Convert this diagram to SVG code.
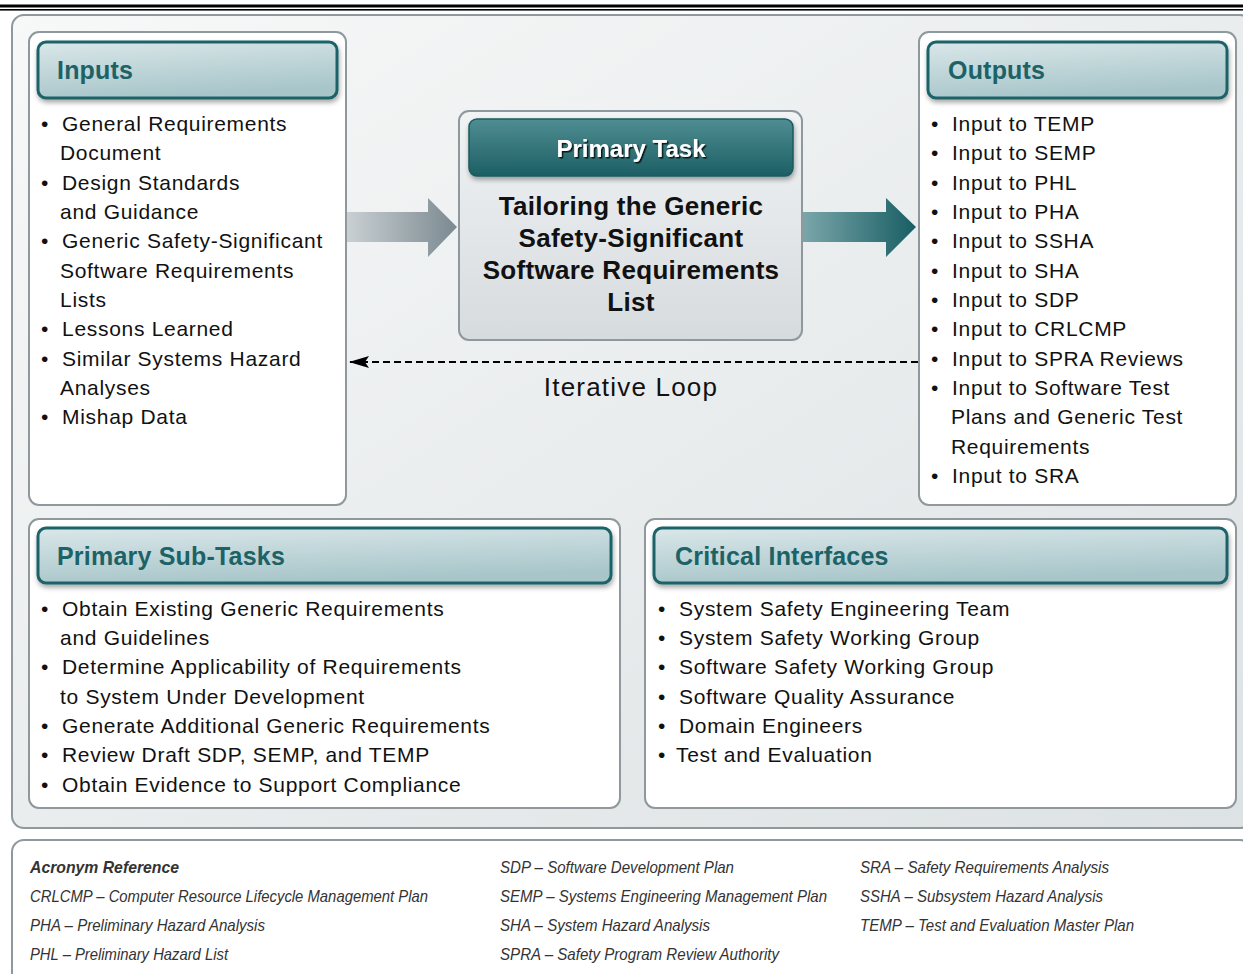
<svg xmlns="http://www.w3.org/2000/svg" width="1243" height="974" viewBox="0 0 1243 974">
<defs>
<linearGradient id="bg" x1="0" y1="0" x2="1" y2="1"><stop offset="0" stop-color="#f7f8f8"/><stop offset="1" stop-color="#dde2e4"/></linearGradient>
<linearGradient id="hdr" x1="0" y1="0" x2="0.3" y2="1"><stop offset="0" stop-color="#dae7e9"/><stop offset="1" stop-color="#a8c6ca"/></linearGradient>
<linearGradient id="dark" x1="0" y1="0" x2="0" y2="1"><stop offset="0" stop-color="#4f8d92"/><stop offset="1" stop-color="#1c5f64"/></linearGradient>
<linearGradient id="task" x1="0" y1="0" x2="0" y2="1"><stop offset="0" stop-color="#f1f3f4"/><stop offset="1" stop-color="#d6dbde"/></linearGradient>
<linearGradient id="arrL" x1="0" y1="0" x2="1" y2="0"><stop offset="0" stop-color="#c9d0d4"/><stop offset="1" stop-color="#7b8990"/></linearGradient>
<linearGradient id="arrR" x1="0" y1="0" x2="1" y2="0"><stop offset="0" stop-color="#7aa6aa"/><stop offset="1" stop-color="#185e63"/></linearGradient>
<filter id="sh" x="-5%" y="-20%" width="110%" height="150%"><feDropShadow dx="1" dy="3" stdDeviation="2.5" flood-color="#000" flood-opacity="0.35"/></filter>
<filter id="tsh" x="-5%" y="-20%" width="110%" height="150%"><feDropShadow dx="1.5" dy="1.5" stdDeviation="0.6" flood-color="#000" flood-opacity="0.8"/></filter>
<marker id="ah" viewBox="0 0 20 12" refX="19" refY="6" markerWidth="20" markerHeight="12" markerUnits="userSpaceOnUse" orient="auto"><path d="M0,0 L20,6 L0,12 L4,6 Z" fill="#000"/></marker>
</defs>
<style>
.panel{fill:#fff;stroke:#8e989d;stroke-width:2}
.hbox{fill:url(#hdr);stroke:#1d6469;stroke-width:3}
.htxt{font-family:"Liberation Sans",Arial,sans-serif;font-weight:bold;font-size:25px;letter-spacing:0.2px;fill:#1c6266}
.li{font-family:"Liberation Sans",Arial,sans-serif;font-size:21px;letter-spacing:0.7px;fill:#111}
.tt{font-family:"Liberation Sans",Arial,sans-serif;font-weight:bold;font-size:26px;letter-spacing:0.3px;fill:#111;text-anchor:middle}
.ac{font-family:"Liberation Sans",Arial,sans-serif;font-style:italic;font-size:17px;fill:#333}
</style>
<rect x="0" y="0" width="1243" height="974" fill="#fff"/>
<rect x="0" y="4.5" width="1243" height="3" fill="#000"/>
<rect x="0" y="9" width="1243" height="1.6" fill="#000"/>
<rect x="12" y="15" width="1240" height="813" rx="12" fill="url(#bg)" stroke="#8e989d" stroke-width="2"/>

<g id="inputs">
<rect class="panel" x="29" y="32" width="317" height="473" rx="10"/>
<rect class="hbox" x="38" y="42" width="299" height="56" rx="8" filter="url(#sh)"/>
<text class="htxt" x="57" y="79">Inputs</text>
<g class="li">
<text x="41" y="131">•</text><text x="62" y="131">General Requirements</text>
<text x="60" y="160">Document</text>
<text x="41" y="190">•</text><text x="62" y="190">Design Standards</text>
<text x="60" y="219">and Guidance</text>
<text x="41" y="248">•</text><text x="62" y="248">Generic Safety-Significant</text>
<text x="60" y="278">Software Requirements</text>
<text x="60" y="307">Lists</text>
<text x="41" y="336">•</text><text x="62" y="336">Lessons Learned</text>
<text x="41" y="366">•</text><text x="62" y="366">Similar Systems Hazard</text>
<text x="60" y="395">Analyses</text>
<text x="41" y="424">•</text><text x="62" y="424">Mishap Data</text>
</g>
</g>

<g id="primary-task">
<rect x="459" y="111" width="343" height="229" rx="10" fill="url(#task)" stroke="#8e989d" stroke-width="2"/>
<rect x="469" y="119" width="324" height="57" rx="8" fill="url(#dark)" stroke="#1a5b60" stroke-width="1.5" filter="url(#sh)"/>
<text x="631" y="157" font-family="Liberation Sans,Arial,sans-serif" font-weight="bold" font-size="24" fill="#fff" text-anchor="middle" filter="url(#tsh)">Primary Task</text>
<text class="tt" x="631" y="215">Tailoring the Generic</text>
<text class="tt" x="631" y="247">Safety-Significant</text>
<text class="tt" x="631" y="279">Software Requirements</text>
<text class="tt" x="631" y="311">List</text>
</g>

<g id="outputs">
<rect class="panel" x="919" y="32" width="317" height="473" rx="10"/>
<rect class="hbox" x="928" y="42" width="299" height="56" rx="8" filter="url(#sh)"/>
<text class="htxt" x="948" y="79">Outputs</text>
<g class="li">
<text x="931" y="131">•</text><text x="952" y="131">Input to TEMP</text>
<text x="931" y="160">•</text><text x="952" y="160">Input to SEMP</text>
<text x="931" y="190">•</text><text x="952" y="190">Input to PHL</text>
<text x="931" y="219">•</text><text x="952" y="219">Input to PHA</text>
<text x="931" y="248">•</text><text x="952" y="248">Input to SSHA</text>
<text x="931" y="278">•</text><text x="952" y="278">Input to SHA</text>
<text x="931" y="307">•</text><text x="952" y="307">Input to SDP</text>
<text x="931" y="336">•</text><text x="952" y="336">Input to CRLCMP</text>
<text x="931" y="366">•</text><text x="952" y="366">Input to SPRA Reviews</text>
<text x="931" y="395">•</text><text x="952" y="395">Input to Software Test</text>
<text x="951" y="424">Plans and Generic Test</text>
<text x="951" y="454">Requirements</text>
<text x="931" y="483">•</text><text x="952" y="483">Input to SRA</text>
</g>
</g>

<g id="connectors">
<path d="M347,212 H428 V198 L457,227 L428,257 V242 H347 Z" fill="url(#arrL)"/>
<path d="M803,212 H886 V198 L916,227 L886,257 V242 H803 Z" fill="url(#arrR)"/>
<line x1="918" y1="362" x2="350" y2="362" stroke="#000" stroke-width="2" stroke-dasharray="7,4" marker-end="url(#ah)"/>
<text x="631" y="396" font-family="Liberation Sans,Arial,sans-serif" font-size="26" letter-spacing="1.2" fill="#111" text-anchor="middle">Iterative Loop</text>
</g>

<g id="sub-tasks">
<rect class="panel" x="29" y="519" width="591" height="289" rx="10"/>
<rect class="hbox" x="38" y="528" width="573" height="55" rx="8" filter="url(#sh)"/>
<text class="htxt" x="57" y="565">Primary Sub-Tasks</text>
<g class="li">
<text x="41" y="616">•</text><text x="62" y="616">Obtain Existing Generic Requirements</text>
<text x="60" y="645">and Guidelines</text>
<text x="41" y="674">•</text><text x="62" y="674">Determine Applicability of Requirements</text>
<text x="60" y="704">to System Under Development</text>
<text x="41" y="733">•</text><text x="62" y="733">Generate Additional Generic Requirements</text>
<text x="41" y="762">•</text><text x="62" y="762">Review Draft SDP, SEMP, and TEMP</text>
<text x="41" y="792">•</text><text x="62" y="792">Obtain Evidence to Support Compliance</text>
</g>
</g>

<g id="critical-interfaces">
<rect class="panel" x="645" y="519" width="591" height="289" rx="10"/>
<rect class="hbox" x="654" y="528" width="573" height="55" rx="8" filter="url(#sh)"/>
<text class="htxt" x="675" y="565">Critical Interfaces</text>
<g class="li">
<text x="658" y="616">•</text><text x="679" y="616">System Safety Engineering Team</text>
<text x="658" y="645">•</text><text x="679" y="645">System Safety Working Group</text>
<text x="658" y="674">•</text><text x="679" y="674">Software Safety Working Group</text>
<text x="658" y="704">•</text><text x="679" y="704">Software Quality Assurance</text>
<text x="658" y="733">•</text><text x="679" y="733">Domain Engineers</text>
<text x="658" y="762">•</text><text x="676" y="762">Test and Evaluation</text>
</g>
</g>

<g id="acronyms">
<rect x="12" y="840" width="1240" height="150" rx="12" fill="#fff" stroke="#8e989d" stroke-width="2"/>
<text class="ac" x="30" y="873" font-weight="bold" fill="#111" textLength="149" lengthAdjust="spacingAndGlyphs">Acronym Reference</text>
<text class="ac" x="30" y="902" textLength="398" lengthAdjust="spacingAndGlyphs">CRLCMP – Computer Resource Lifecycle Management Plan</text>
<text class="ac" x="30" y="931" textLength="235" lengthAdjust="spacingAndGlyphs">PHA – Preliminary Hazard Analysis</text>
<text class="ac" x="30" y="960" textLength="198" lengthAdjust="spacingAndGlyphs">PHL – Preliminary Hazard List</text>
<text class="ac" x="500" y="873" textLength="234" lengthAdjust="spacingAndGlyphs">SDP – Software Development Plan</text>
<text class="ac" x="500" y="902" textLength="327" lengthAdjust="spacingAndGlyphs">SEMP – Systems Engineering Management Plan</text>
<text class="ac" x="500" y="931" textLength="210" lengthAdjust="spacingAndGlyphs">SHA – System Hazard Analysis</text>
<text class="ac" x="500" y="960" textLength="279" lengthAdjust="spacingAndGlyphs">SPRA – Safety Program Review Authority</text>
<text class="ac" x="860" y="873" textLength="249" lengthAdjust="spacingAndGlyphs">SRA – Safety Requirements Analysis</text>
<text class="ac" x="860" y="902" textLength="243" lengthAdjust="spacingAndGlyphs">SSHA – Subsystem Hazard Analysis</text>
<text class="ac" x="860" y="931" textLength="274" lengthAdjust="spacingAndGlyphs">TEMP – Test and Evaluation Master Plan</text>
</g>
</svg>
